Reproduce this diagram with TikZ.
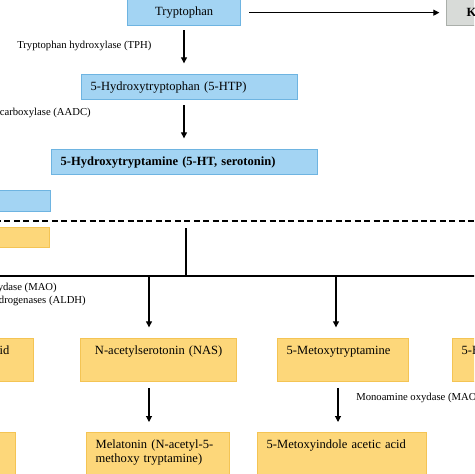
\documentclass[tikz,border=0pt]{standalone}
\usepackage{fontspec}
\setmainfont{Liberation Serif}
\usetikzlibrary{arrows.meta,positioning}

\definecolor{boxblue}{RGB}{163,212,243}
\definecolor{edgeblue}{RGB}{110,180,225}
\definecolor{boxorange}{RGB}{253,215,122}
\definecolor{edgeorange}{RGB}{244,196,84}
\definecolor{boxgray}{RGB}{216,219,216}
\definecolor{edgegray}{RGB}{170,175,170}

\tikzset{
  pathbox/.style={anchor=north west, line width=1pt, inner xsep=6.75pt, inner ysep=0pt,
    align=left, font=\fontsize{9.4}{10.5}\selectfont},
  bluebox/.style={pathbox, fill=boxblue, draw=edgeblue},
  orangebox/.style={pathbox, fill=boxorange, draw=edgeorange},
  graybox/.style={pathbox, fill=boxgray, draw=edgegray},
  rowone/.style={text height=12pt, text depth=20.25pt},
  rowtwo/.style={text height=12pt, text depth=33pt},
  enzyme/.style={inner sep=0pt, font=\fontsize{8}{9.6}\selectfont},
  flow/.style={-{Triangle[length=4.5pt,width=4.5pt]}, line width=0.8pt},
}

\begin{document}
\begin{tikzpicture}[x=0.75pt,y=-0.75pt]
\useasboundingbox (0,0) rectangle (474,474);
\clip (0,0) rectangle (474,474);

\coordinate (axis) at (184,0);
\coordinate (dashL) at (-5,221);
\coordinate (dashR) at (480,221);
\coordinate (trunk) at (186,228);
\coordinate (splitL) at (-5,276);
\coordinate (splitR) at (480,276);
\coordinate (bNAS) at (149,276);
\coordinate (bMXT) at (336,276);
\coordinate (cMXT) at (338,0);

% synthesis
\node[bluebox, align=center, text width=71.25pt, minimum height=19.5pt] (trp) at (127,-1) {Tryptophan};
\node[graybox, inner xsep=15pt, text width=30pt, minimum height=19.5pt, font=\fontsize{9.4}{10.5}\selectfont\bfseries] (kyn) at (446,-1) {K};
\node[bluebox, text width=148.5pt, minimum height=18.75pt] (htp) at (81,74) {5-Hydroxytryptophan (5-HTP)};
\node[bluebox, text width=186pt, minimum height=18.75pt, font=\fontsize{9.4}{10.5}\selectfont\bfseries] (ser) at (51,149) {5-Hydroxytryptamine (5-HT, serotonin)};
\node[bluebox, text width=27.75pt, minimum height=15.75pt] (blueL) at (-5,190) {};
\node[orangebox, text width=27pt, minimum height=15pt] (orangeL) at (-5,227) {};

\node[enzyme, anchor=west] (tph) at (17,46) {Tryptophan hydroxylase (TPH)};
\node[enzyme, anchor=east] (aadc) at (91,113) {decarboxylase (AADC)};

\draw[flow, shorten <=6pt, shorten >=5pt] (trp.east) -- (kyn.west);
\draw[flow, shorten <=3pt, shorten >=8pt] (trp.south -| axis) -- (htp.north -| axis);
\draw[flow, shorten <=3.75pt, shorten >=8pt] (htp.south -| axis) -- (ser.north -| axis);

% metabolism
\draw[line width=1.5pt, dash pattern=on 4.5pt off 2.6pt] (dashL) -- (dashR);
\draw[line width=1pt] (trunk) -- (trunk |- splitL);
\draw[line width=1pt] (splitL) -- (splitR);

\node[enzyme, anchor=east] (maoL) at (57,288) {oxydase (MAO)};
\node[enzyme, anchor=east] (aldh) at (86,301) {dehydrogenases (ALDH)};

\node[orangebox, rowone, text width=18.75pt] (acidL) at (-10,338) {id};
\node[orangebox, rowone, align=center, text width=103.5pt] (nas) at (80,338) {N-acetylserotonin (NAS)};
\node[orangebox, rowone, text width=84.75pt] (mxt) at (277,338) {5-Metoxytryptamine};
\node[orangebox, rowone, text width=31.5pt] (hR) at (452,338) {5-H};

\node[orangebox, rowtwo, text width=20.25pt] (lowL) at (-30,432) {};
\node[orangebox, rowtwo, text width=93.75pt] (mel) at (86,432) {Melatonin (N-acetyl-5-\\methoxy tryptamine)};
\node[orangebox, rowtwo, text width=113.25pt] (mia) at (257,432) {5-Metoxyindole acetic acid};

\node[enzyme, anchor=west] (maoR) at (356,398) {Monoamine oxydase (MAO)};

\draw[flow, shorten >=8pt] (bNAS) -- (bNAS |- nas.north);
\draw[flow, shorten >=8pt] (bMXT) -- (bMXT |- mxt.north);
\draw[flow, shorten <=4.5pt, shorten >=7.5pt] (nas.south -| bNAS) -- (mel.north -| bNAS);
\draw[flow, shorten <=4.5pt, shorten >=7.5pt] (mxt.south -| cMXT) -- (mia.north -| cMXT);
\end{tikzpicture}
\end{document}
